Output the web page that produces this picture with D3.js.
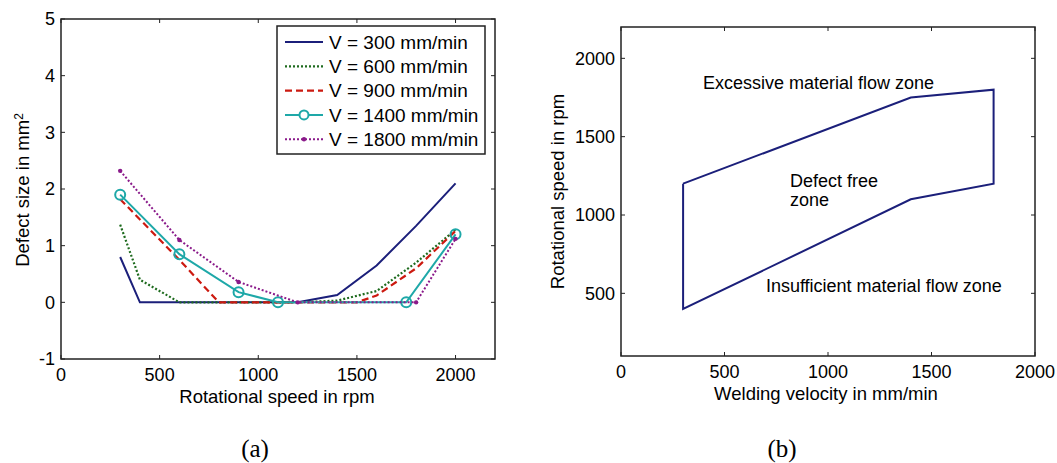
<!DOCTYPE html>
<html>
<head>
<meta charset="utf-8">
<script src="https://cdn.jsdelivr.net/npm/d3@7"></script>
<style>
  body { margin: 0; background: #fff; }
  svg text { font-family: Arial, "Liberation Sans", sans-serif; fill: #000; }
</style>
</head>
<body>
<div id="chart"></div>
<script>
// ---- data: panel (a) ----
var seriesNames = ["V = 300 mm/min", "V = 600 mm/min", "V = 900 mm/min", "V = 1400 mm/min", "V = 1800 mm/min"];
var rpm300  = [300, 400, 600, 800, 1000, 1200, 1400, 1600, 1800, 2000];
var def300  = [0.8, 0, 0, 0, 0, 0, 0.13, 0.65, 1.35, 2.1];
var rpm600  = [300, 400, 600, 800, 1000, 1200, 1400, 1600, 1800, 2000];
var def600  = [1.37, 0.4, 0, 0, 0, 0, 0.03, 0.2, 0.7, 1.28];
var rpm900  = [300, 600, 800, 1000, 1200, 1500, 1600, 1800, 2000];
var def900  = [1.82, 0.75, 0, 0, 0, 0, 0.12, 0.6, 1.26];
var rpm1400 = [300, 600, 900, 1100, 1750, 2000];
var def1400 = [1.9, 0.85, 0.18, 0, 0, 1.2];
var rpm1800 = [300, 600, 900, 1200, 1800, 2000];
var def1800 = [2.32, 1.1, 0.36, 0, 0, 1.12];
var xTicksA = [0, 500, 1000, 1500, 2000];
var yTicksA = [-1, 0, 1, 2, 3, 4, 5];

// ---- data: panel (b) ----
var zoneVel = [300, 1400, 1800, 1800, 1400, 300, 300];
var zoneRpm = [1200, 1750, 1800, 1200, 1100, 400, 1200];
var xTicksB = [0, 500, 1000, 1500, 2000];
var yTicksB = [500, 1000, 1500, 2000];

var svg = d3.select("#chart").append("svg")
    .attr("width", 1057).attr("height", 463);

// MATLAB-like box axes with inward ticks on all four sides
function boxAxes(g, x, y, xt, yt, w, h) {
    g.append("rect").attr("width", w).attr("height", h)
        .attr("fill", "none").attr("stroke", "#222").attr("stroke-width", 1.5);
    var tl = 4;
    xt.forEach(function(v) {
        g.append("line").attr("x1", x(v)).attr("x2", x(v)).attr("y1", h).attr("y2", h - tl).attr("stroke", "#222");
        g.append("line").attr("x1", x(v)).attr("x2", x(v)).attr("y1", 0).attr("y2", tl).attr("stroke", "#222");
        g.append("text").attr("x", x(v)).attr("y", h + 22)
            .attr("text-anchor", "middle").style("font-size", "18px").text(v);
    });
    yt.forEach(function(v) {
        g.append("line").attr("x1", 0).attr("x2", tl).attr("y1", y(v)).attr("y2", y(v)).attr("stroke", "#222");
        g.append("line").attr("x1", w).attr("x2", w - tl).attr("y1", y(v)).attr("y2", y(v)).attr("stroke", "#222");
        g.append("text").attr("x", -6).attr("y", y(v)).attr("dy", "0.35em")
            .attr("text-anchor", "end").style("font-size", "18px").text(v);
    });
}

// ---------- panel (a) ----------
var A = { left: 61, top: 19, w: 434, h: 340 };
var ga = svg.append("g").attr("transform", "translate(" + A.left + "," + A.top + ")");
var xa = d3.scaleLinear().domain([0, 2200]).range([0, A.w]);
var ya = d3.scaleLinear().domain([-1, 5]).range([A.h, 0]);

var series = [
    { name: seriesNames[0], xs: rpm300,  ys: def300,  color: "#1b1f7a", dash: null,  width: 2,   marker: null },
    { name: seriesNames[1], xs: rpm600,  ys: def600,  color: "#1e6b1e", dash: "2,2", width: 2.2, marker: null },
    { name: seriesNames[2], xs: rpm900,  ys: def900,  color: "#cc1a10", dash: "7,4", width: 2.2, marker: null },
    { name: seriesNames[3], xs: rpm1400, ys: def1400, color: "#1ea8a8", dash: null,  width: 2,   marker: "circle" },
    { name: seriesNames[4], xs: rpm1800, ys: def1800, color: "#8a1a8a", dash: "2,2", width: 2,   marker: "dot" }
];

var line = d3.line().x(function(d) { return xa(d[0]); }).y(function(d) { return ya(d[1]); });

series.forEach(function(s) {
    var pts = s.xs.map(function(v, i) { return [v, s.ys[i]]; });
    ga.append("path").datum(pts).attr("d", line)
        .attr("fill", "none").attr("stroke", s.color).attr("stroke-width", s.width)
        .attr("stroke-dasharray", s.dash);
    if (s.marker === "circle") {
        ga.selectAll(null).data(pts).enter().append("circle")
            .attr("cx", function(d) { return xa(d[0]); }).attr("cy", function(d) { return ya(d[1]); })
            .attr("r", 5).attr("fill", "none").attr("stroke", s.color).attr("stroke-width", 2);
    } else if (s.marker === "dot") {
        ga.selectAll(null).data(pts).enter().append("circle")
            .attr("cx", function(d) { return xa(d[0]); }).attr("cy", function(d) { return ya(d[1]); })
            .attr("r", 2.2).attr("fill", s.color);
    }
});

boxAxes(ga, xa, ya, xTicksA, yTicksA, A.w, A.h);

// legend
var lg = ga.append("g").attr("transform", "translate(" + (277 - A.left) + "," + (26 - A.top) + ")");
lg.append("rect").attr("width", 208).attr("height", 128)
    .attr("fill", "#fff").attr("stroke", "#222").attr("stroke-width", 1.5);
series.forEach(function(s, i) {
    var yy = 16 + i * 24.3;
    lg.append("line").attr("x1", 8).attr("x2", 46).attr("y1", yy).attr("y2", yy)
        .attr("stroke", s.color).attr("stroke-width", s.width).attr("stroke-dasharray", s.dash);
    if (s.marker === "circle") {
        lg.append("circle").attr("cx", 27).attr("cy", yy).attr("r", 4.5)
            .attr("fill", "#fff").attr("stroke", s.color).attr("stroke-width", 2);
    } else if (s.marker === "dot") {
        lg.append("circle").attr("cx", 27).attr("cy", yy).attr("r", 2.2).attr("fill", s.color);
    }
    lg.append("text").attr("x", 52).attr("y", yy).attr("dy", "0.36em")
        .style("font-size", "19px").text(s.name);
});

// axis labels (a)
svg.append("text").attr("x", 277).attr("y", 403)
    .attr("text-anchor", "middle").style("font-size", "18.5px").text("Rotational speed in rpm");
var yl = svg.append("text").attr("transform", "translate(29,190) rotate(-90)")
    .attr("text-anchor", "middle").style("font-size", "18.5px");
yl.append("tspan").text("Defect size in mm");
yl.append("tspan").attr("dy", "-0.5em").style("font-size", "12px").text("2");

// ---------- panel (b) ----------
var B = { left: 621, top: 27, w: 414, h: 329 };
var gb = svg.append("g").attr("transform", "translate(" + B.left + "," + B.top + ")");
var xb = d3.scaleLinear().domain([0, 2000]).range([0, B.w]);
var yb = d3.scaleLinear().domain([100, 2200]).range([B.h, 0]);

var zonePts = zoneVel.map(function(v, i) { return [v, zoneRpm[i]]; });
gb.append("path").datum(zonePts)
    .attr("d", d3.line().x(function(d) { return xb(d[0]); }).y(function(d) { return yb(d[1]); }))
    .attr("fill", "none").attr("stroke", "#1b1f7a").attr("stroke-width", 2);

boxAxes(gb, xb, yb, xTicksB, yTicksB, B.w, B.h);

gb.append("text").attr("x", xb(396)).attr("y", yb(1845)).attr("dy", "0.35em")
    .style("font-size", "18px").text("Excessive material flow zone");
gb.append("text").attr("x", xb(816)).attr("y", yb(1222)).attr("dy", "0.35em")
    .style("font-size", "18px").text("Defect free");
gb.append("text").attr("x", xb(816)).attr("y", yb(1100)).attr("dy", "0.35em")
    .style("font-size", "18px").text("zone");
gb.append("text").attr("x", xb(700)).attr("y", yb(546)).attr("dy", "0.35em")
    .style("font-size", "18px").text("Insufficient material flow zone");

svg.append("text").attr("x", 826).attr("y", 400)
    .attr("text-anchor", "middle").style("font-size", "18.5px").text("Welding velocity in mm/min");
svg.append("text").attr("transform", "translate(564," + (B.top + B.h / 2) + ") rotate(-90)")
    .attr("text-anchor", "middle").style("font-size", "18.5px").text("Rotational speed in rpm");

// captions
svg.append("text").attr("x", 255).attr("y", 457).attr("text-anchor", "middle")
    .style("font-family", "'Liberation Serif', 'Times New Roman', serif").style("font-size", "25px").text("(a)");
svg.append("text").attr("x", 782).attr("y", 457).attr("text-anchor", "middle")
    .style("font-family", "'Liberation Serif', 'Times New Roman', serif").style("font-size", "25px").text("(b)");
</script>
</body>
</html>
